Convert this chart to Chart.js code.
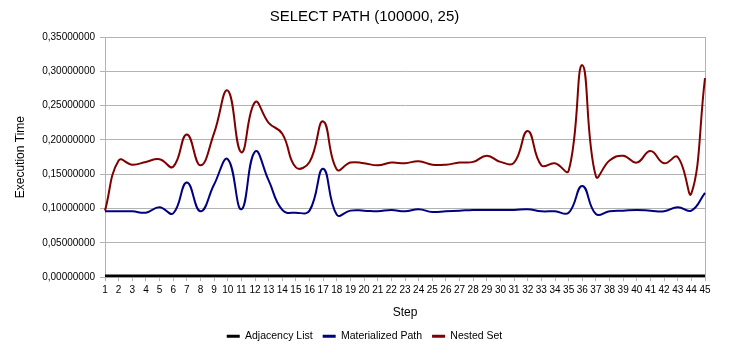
<!DOCTYPE html>
<html>
<head>
<meta charset="utf-8">
<script src="https://cdn.jsdelivr.net/npm/chart.js@4.4.1/dist/chart.umd.min.js"></script>
<style>
  html, body { margin: 0; padding: 0; background: #ffffff; }
  #wrap { width: 739px; height: 356px; }
</style>
</head>
<body>
<div id="wrap"><canvas id="c" width="739" height="356"></canvas></div>
<script>
const TITLE = 'SELECT PATH (100000, 25)';
const X_TITLE = 'Step';
const Y_TITLE = 'Execution Time';
const SERIES_NAMES = ['Adjacency List', 'Materialized Path', 'Nested Set'];

const steps = ['1','2','3','4','5','6','7','8','9','10','11','12','13','14','15','16','17','18','19','20',
  '21','22','23','24','25','26','27','28','29','30','31','32','33','34','35','36','37','38','39','40',
  '41','42','43','44','45'];

const adjacencyList = [0.0018,0.0018,0.0018,0.0018,0.0018,0.0018,0.0018,0.0018,0.0018,0.0018,
  0.0018,0.0018,0.0018,0.0018,0.0018,0.0018,0.0018,0.0018,0.0018,0.0018,
  0.0018,0.0018,0.0018,0.0018,0.0018,0.0018,0.0018,0.0018,0.0018,0.0018,
  0.0018,0.0018,0.0018,0.0018,0.0018,0.0018,0.0018,0.0018,0.0018,0.0018,
  0.0018,0.0018,0.0018,0.0018,0.0018];

const materializedPath = [0.096,0.096,0.096,0.094,0.102,0.093,0.138,0.096,0.135,0.172,
  0.099,0.183,0.141,0.098,0.094,0.097,0.158,0.091,0.097,0.097,
  0.096,0.098,0.096,0.099,0.095,0.096,0.097,0.098,0.098,0.098,
  0.098,0.099,0.096,0.096,0.094,0.133,0.092,0.096,0.097,0.098,
  0.097,0.096,0.102,0.097,0.123];

const nestedSet = [0.097,0.170,0.164,0.168,0.172,0.161,0.208,0.163,0.210,0.272,
  0.182,0.255,0.225,0.209,0.160,0.168,0.227,0.157,0.167,0.166,
  0.163,0.167,0.166,0.169,0.164,0.164,0.167,0.168,0.177,0.168,
  0.167,0.213,0.163,0.166,0.155,0.309,0.147,0.170,0.177,0.167,
  0.184,0.166,0.175,0.122,0.290];

const yTickValues = [0, 0.05, 0.10, 0.15, 0.20, 0.25, 0.30, 0.35];

Chart.defaults.font.family = "'Liberation Sans', Arial, sans-serif";
Chart.defaults.color = '#000000';

const GRID = '#b3b3b3';

new Chart(document.getElementById('c'), {
  type: 'line',
  data: {
    labels: steps,
    datasets: [
      { label: SERIES_NAMES[0], data: adjacencyList, borderColor: '#000000', backgroundColor: '#000000', borderWidth: 3 },
      { label: SERIES_NAMES[1], data: materializedPath, borderColor: '#000080', backgroundColor: '#000080', borderWidth: 2 },
      { label: SERIES_NAMES[2], data: nestedSet, borderColor: '#800000', backgroundColor: '#800000', borderWidth: 2 }
    ]
  },
  options: {
    responsive: false,
    animation: false,
    devicePixelRatio: 1,
    layout: { padding: { left: 0, right: 10, top: 0, bottom: 4.5 } },
    elements: { point: { radius: 0, hoverRadius: 0 }, line: { tension: 0.45, fill: false } },
    plugins: {
      title: { display: true, text: TITLE, color: '#000', font: { size: 15, weight: 'normal' }, padding: { top: 7.5, bottom: 11.5 } },
      legend: {
        position: 'bottom',
        labels: {
          usePointStyle: true, pointStyle: 'line', pointStyleWidth: 13, boxWidth: 13, boxHeight: 11, padding: 10,
          color: '#000', font: { size: 10.5 },
          generateLabels(chart) {
            return Chart.defaults.plugins.legend.labels.generateLabels(chart).map(l => Object.assign(l, { lineWidth: 3 }));
          }
        }
      },
      tooltip: { enabled: false }
    },
    scales: {
      x: {
        type: 'category',
        offset: false,
        grid: { drawOnChartArea: false, drawTicks: true, tickLength: 4, color: GRID },
        border: { color: GRID },
        ticks: { autoSkip: false, maxRotation: 0, minRotation: 0, padding: 3, color: '#000', font: { size: 10 } },
        title: { display: true, text: X_TITLE, color: '#000', font: { size: 12 }, padding: { top: 0, bottom: 1 } },
        afterFit(s) { s.height = 43.8; }
      },
      y: {
        min: 0, max: 0.35,
        afterBuildTicks(s) { s.ticks = yTickValues.map(v => ({ value: v })); },
        ticks: { padding: 5, color: '#000', font: { size: 10 }, callback: v => Number(v).toFixed(8).replace('.', ',') },
        grid: { color: GRID, tickLength: 5 },
        border: { color: GRID },
        title: { display: true, text: Y_TITLE, color: '#000', font: { size: 12 }, padding: { top: 13, bottom: 0 } },
        afterFit(s) { s.width = 105; }
      },
      y2: {
        position: 'right',
        min: 0, max: 0.35,
        grid: { drawOnChartArea: false, drawTicks: false },
        ticks: { display: false },
        border: { color: GRID },
        afterFit(s) { s.width = 24; }
      }
    }
  }
});
</script>
</body>
</html>
